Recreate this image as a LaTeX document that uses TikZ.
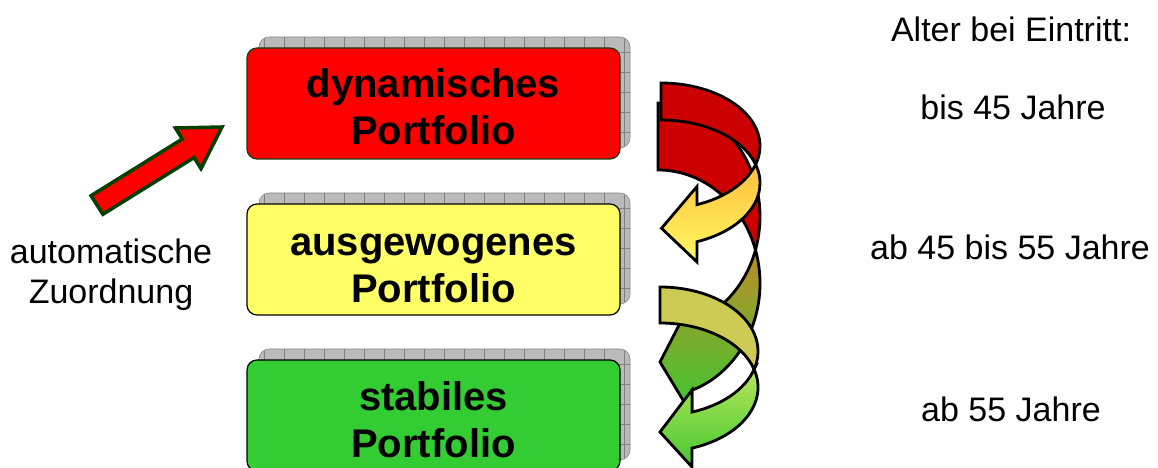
\documentclass[tikz,border=0pt]{standalone}
\usepackage{fontspec}
\setmainfont{Liberation Sans}
\definecolor{boxred}{RGB}{255,0,0}
\definecolor{boxyellow}{RGB}{255,255,102}
\definecolor{boxgreen}{RGB}{51,204,51}
\definecolor{bandred}{RGB}{204,0,0}
\definecolor{bandkhaki}{RGB}{204,204,85}
\definecolor{arrowline}{RGB}{0,64,0}
\definecolor{yelTop}{RGB}{255,190,60}
\definecolor{yelBot}{RGB}{255,250,100}
\definecolor{oliveTop}{RGB}{190,140,40}
\definecolor{oliveMid}{RGB}{140,180,50}
\definecolor{oliveBot}{RGB}{60,200,50}
\definecolor{lgTop}{RGB}{180,230,90}
\definecolor{lgBot}{RGB}{70,200,50}
\definecolor{redboxline}{RGB}{20,60,20}
\tikzset{
  pshadow/.style={draw=black!45, line width=0.6pt, fill=black!27, rounded corners=10pt,
    minimum width=371pt, minimum height=111pt, inner sep=0pt, outer sep=0pt,
    path picture={\draw[black!50, line width=0.5pt]
      ([xshift=-30pt,yshift=-30pt]path picture bounding box.south west) grid[step=20pt]
      ([xshift=30pt,yshift=30pt]path picture bounding box.north east);}},
  pbox/.style={rounded corners=10pt, minimum width=373pt, minimum height=111pt,
    line width=1.2pt, inner sep=0pt, outer sep=0pt},
  ptext/.style={font=\fontsize{40}{47}\selectfont\bfseries, align=center, inner sep=0pt},
  agetext/.style={font=\fontsize{34}{40}\selectfont, anchor=base, inner sep=0pt},
  sidetext/.style={font=\fontsize{34}{40}\selectfont, align=center, inner sep=0pt},
  bandline/.style={draw=black, line width=2.8pt},
  redarrow/.style={draw=arrowline, fill=boxred, line width=3.5pt}
}
\begin{document}
\begin{tikzpicture}[x=1pt,y=1pt]
\useasboundingbox (0,0) rectangle (1158,468);

% shadows
\node[pshadow] (dynS) at (444.5,375.5) {};
\node[pshadow] (ausS) at (444.5,219.5) {};
\node[pshadow] (stbS) at (444.5,63.5) {};

% boxes
\node[pbox, draw=redboxline, fill=boxred] (dyn) at (433.5,364.5) {};
\node[pbox, draw=black, fill=boxyellow] (aus) at (433.5,208.5) {};
\node[pbox, draw=black, fill=boxgreen] (stb) at (433.5,52.5) {};

% box texts
\node[ptext] (dynT) at (433.5,355.9) {\strut dynamisches\\\strut Portfolio};
\node[ptext] (ausT) at (433.5,197.9) {\strut ausgewogenes\\\strut Portfolio};
\node[ptext] (stbT) at (433.5,42.9) {\strut stabiles\\\strut Portfolio};

% right texts
\node[agetext] (ageHead) at (1011,426) {Alter bei Eintritt:};
\node[agetext] (ageA) at (1013,348) {bis 45 Jahre};
\node[agetext] (ageB) at (1010,208) {ab 45 bis 55 Jahre};
\node[agetext] (ageC) at (1011,46) {ab 55 Jahre};

% left text
\node[sidetext] (autoT) at (111,192.5) {\strut automatische\\\strut Zuordnung};

% red block arrow
\draw[redarrow] (91.1,272.3) -- (182.3,329.0) -- (175.4,340.0) -- (222,341)
  -- (201.0,299.4) -- (194.1,310.4) -- (102.9,253.7) -- cycle;

% curved arrow 2 (behind)
\draw[bandline, fill=bandred] (658,365)
  arc[start angle=90, end angle=-17.18, x radius=102, y radius=113.4]
  arc[start angle=17.18, end angle=90, x radius=102, y radius=113.4] -- cycle;
\draw[bandline, top color=oliveTop, middle color=oliveMid, bottom color=oliveBot] (755.5,218.1)
  arc[start angle=-17.18, end angle=-70.53, x radius=102, y radius=113.4]
  -- (692,168) -- (660,106) -- (692,53) -- (692,77.7)
  arc[start angle=-70.53, end angle=17.18, x radius=102, y radius=113.4] -- cycle;

% curved arrow 1
\draw[bandline, fill=bandred] (661,385)
  arc[start angle=90, end angle=-17.08, x radius=99, y radius=63]
  arc[start angle=17.08, end angle=90, x radius=99, y radius=63] -- cycle;
\draw[bandline, top color=yelTop, bottom color=yelBot] (755.6,303.5)
  arc[start angle=-17.08, end angle=-68.68, x radius=99, y radius=63]
  -- (697,281.5) -- (661.5,239.7) -- (697,206) -- (697,226.3)
  arc[start angle=-68.68, end angle=17.08, x radius=99, y radius=63] -- cycle;

% curved arrow 3
\draw[bandline, fill=bandkhaki] (660,181)
  arc[start angle=90, end angle=-16.26, x radius=98, y radius=64.3]
  arc[start angle=16.26, end angle=90, x radius=98, y radius=64.3] -- cycle;
\draw[bandline, top color=lgTop, bottom color=lgBot] (754.1,98.7)
  arc[start angle=-16.26, end angle=-70.94, x radius=98, y radius=64.3]
  -- (692,78) -- (660,36) -- (692,1) -- (692,19.9)
  arc[start angle=-70.94, end angle=16.26, x radius=98, y radius=64.3] -- cycle;
\end{tikzpicture}
\end{document}
